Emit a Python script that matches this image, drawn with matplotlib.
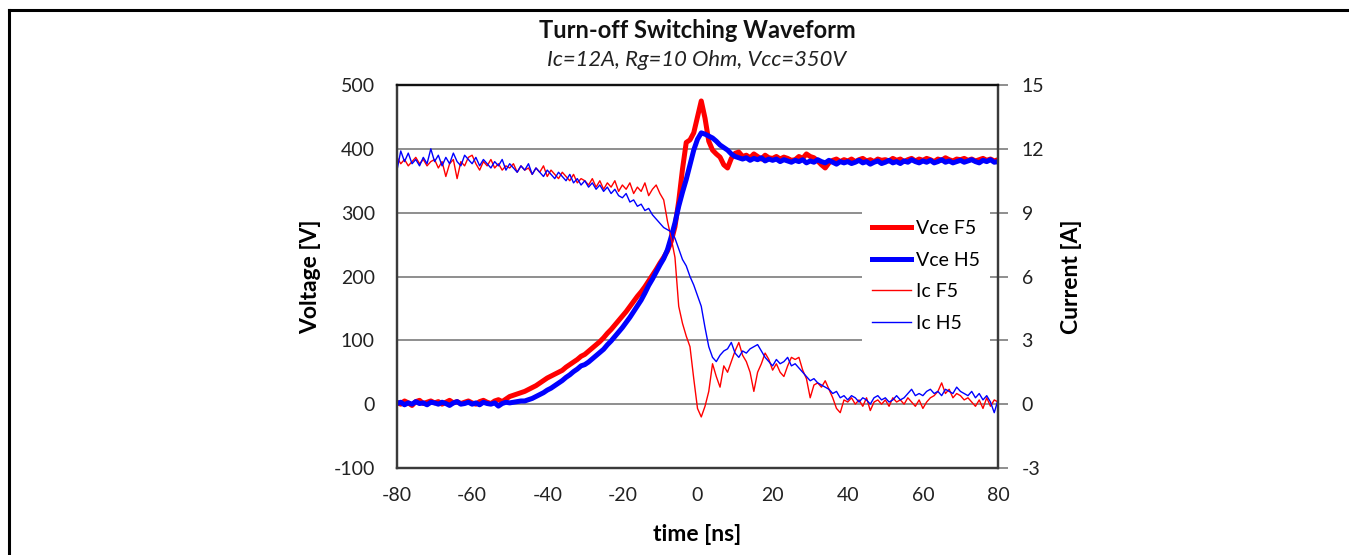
import numpy as np
import matplotlib
matplotlib.use("Agg")
from matplotlib import pyplot as plt
from matplotlib.lines import Line2D

plt.rcParams['font.family'] = ['Lato', 'DejaVu Sans']
plt.rcParams['axes.unicode_minus'] = False

# time axis, 1 ns steps from -80 to 80
time_ns = list(range(-80, 81))

# collector-emitter voltage [V]
vce_f5 = [
    3, 0, 5, 2, -2, 4, 6, 1, 3, 5,
    2, 4, 0, 3, 6, 2, 4, 1, 3, 5,
    2, 0, 4, 6, 3, 1, 5, 7, 4, 8,
    12, 14, 16, 18, 20, 23, 26, 29, 33, 37,
    41, 44, 47, 50, 53, 58, 62, 66, 70, 75,
    78, 83, 88, 93, 98, 104, 111, 117, 124, 131,
    138, 145, 153, 161, 169, 176, 184, 193, 202, 211,
    221, 230, 240, 255, 278, 318, 368, 410, 414, 425,
    450, 475, 448, 412, 398, 392, 387, 375, 370, 385,
    393, 395, 388, 390, 386, 392, 388, 384, 390, 386,
    385, 388, 384, 387, 385, 382, 383, 388, 385, 392,
    388, 386, 381, 375, 370, 378, 382, 384, 380, 383,
    381, 384, 380, 383, 385, 381, 383, 380, 384, 382,
    383, 381, 385, 382, 384, 380, 383, 385, 381, 384,
    382, 385, 383, 380, 384, 382, 386, 383, 381, 384,
    383, 385, 382, 384, 381, 383, 385, 382, 384, 381,
    383,
]
vce_h5 = [
    1, 3, -1, 2, 0, 4, 1, 2, -1, 3,
    2, 0, 3, 1, -2, 2, 4, 0, 1, 3,
    0, 2, -1, 3, 1, 0, 2, -3, 1, 3,
    2, 3, 4, 5, 5, 7, 9, 12, 15, 18,
    22, 25, 29, 33, 37, 42, 46, 51, 55, 60,
    62, 66, 71, 76, 81, 86, 93, 99, 106, 113,
    120, 128, 136, 145, 154, 163, 174, 186, 196, 207,
    218, 228, 242, 262, 284, 310, 332, 352, 375, 398,
    415, 425, 423, 420, 417, 412, 406, 402, 398, 392,
    388, 386, 384, 386, 382, 385, 383, 386, 381, 384,
    382, 384, 380, 383, 381, 379, 382, 380, 383, 378,
    381, 379, 383, 380, 378, 382, 379, 376, 380, 378,
    380, 377, 379, 382, 378, 380, 376, 379, 381, 377,
    379, 382, 378, 380, 377, 381, 379, 383, 380, 378,
    381, 379, 382, 378, 380, 383, 379, 381, 378, 380,
    382, 379, 381, 383, 380, 378, 382, 380, 383, 379,
    380,
]

# collector current [A]
ic_f5 = [
    11.6, 11.3, 11.5, 11.2, 11.4, 11.6, 11.3, 11.5, 11.2, 11.4,
    11.5, 11.1, 11.4, 10.7, 11.3, 11.5, 10.6, 11.4, 11.2, 11.6,
    11.7, 11.3, 11.0, 11.4, 11.2, 11.5, 11.1, 11.3, 11.0, 11.2,
    11.1, 11.3, 10.9, 11.2, 11.0, 11.1, 10.8, 11.1, 10.9, 11.2,
    10.7, 11.0, 10.8, 10.6, 10.9, 10.7, 10.5, 10.8, 10.4, 10.6,
    10.5, 10.3, 10.6, 10.2, 10.5, 10.1, 10.4, 10.2, 10.5, 10.0,
    10.3, 10.1, 10.4, 9.9, 10.2, 10.0, 10.4, 9.8, 10.1, 10.3,
    9.9, 9.6, 8.6, 7.8, 6.9, 4.6, 3.8, 3.2, 2.7, 1.2,
    -0.2, -0.6, -0.1, 0.6, 1.9, 1.3, 0.8, 1.8, 1.5, 2.0,
    2.5, 2.9, 2.3, 2.0, 1.5, 0.6, 1.5, 1.9, 2.4, 2.1,
    1.6, 1.9, 1.5, 1.3, 1.8, 2.2, 2.1, 2.2, 1.6, 1.2,
    0.3, 0.9, 1.0, 0.8, 1.1, 0.7, 0.3, -0.2, -0.4, 0.2,
    0.1, 0.3, 0.0, 0.2, -0.1, 0.3, -0.3, 0.1, 0.2, 0.0,
    0.2, -0.1, 0.3, 0.1, 0.2, 0.0, 0.3, 0.1, -0.1, 0.2,
    -0.2, 0.1, 0.3, 0.4, 0.6, 1.0, 0.5, 0.7, 0.3, 0.5,
    0.4, 0.2, 0.3, 0.1, -0.1, 0.2, -0.2, 0.3, -0.1, 0.2,
    0.1,
]
ic_h5 = [
    11.0, 11.9, 11.4, 11.8, 11.3, 11.5, 11.2, 11.6, 11.3, 12.0,
    11.4, 11.7, 11.2, 11.6, 11.3, 11.8, 11.4, 11.2, 11.7, 11.5,
    11.3, 11.6, 11.2, 11.5, 11.3, 11.1, 11.4, 11.2, 11.5, 11.0,
    11.3, 11.1, 10.9, 11.2, 11.0, 11.3, 10.8, 11.1, 10.9, 10.7,
    11.0, 10.8, 10.6, 10.9, 10.7, 10.5, 10.8, 10.4, 10.6, 10.3,
    10.5, 10.2, 10.4, 10.1, 10.3, 10.0, 10.2, 9.9, 10.1, 9.8,
    9.7, 9.9, 9.5, 9.6, 9.3, 9.4, 9.1, 9.2, 8.9, 8.7,
    8.5, 8.3, 8.2, 8.1, 7.8, 7.3, 6.8, 6.5, 6.0, 5.6,
    5.1, 4.6, 3.6, 2.7, 2.2, 2.0, 2.3, 2.5, 2.6, 2.9,
    2.4, 2.2, 2.5, 2.4, 2.6, 2.7, 2.8, 2.5, 2.2, 2.0,
    1.8, 2.1, 1.9, 2.0, 2.2, 1.8, 1.9, 1.7, 1.5, 1.3,
    1.1, 1.2, 1.0, 0.9, 0.8, 0.7, 0.5, 0.6, 0.3, 0.4,
    0.2, 0.4, 0.3, 0.1, 0.3, 0.2, 0.0, 0.3, 0.4, 0.2,
    0.3, 0.1, 0.2, 0.4, 0.2, 0.3, 0.5, 0.7, 0.4, 0.5,
    0.4, 0.6, 0.7, 0.5, 0.6, 0.4, 0.7, 0.6, 0.5, 0.8,
    0.6, 0.5, 0.4, 0.6, 0.3, 0.5, 0.2, 0.4, 0.1, -0.4,
    0.2,
]

x_ticks = [-80, -60, -40, -20, 0, 20, 40, 60, 80]
v_ticks = [-100, 0, 100, 200, 300, 400, 500]
i_ticks = [-3, 0, 3, 6, 9, 12, 15]

W, H = 1349, 555
fig = plt.figure(figsize=(W / 100, H / 100), dpi=100)
ax = fig.add_axes([397 / W, 1 - 468 / H, (998 - 397) / W, (468 - 85) / H])
ax2 = ax.twinx()

grid_col = "#868686"
spine_col = "#3a3a3a"

ax.plot(time_ns, vce_f5, color="#ff0000", lw=3.6, label="Vce F5", solid_joinstyle="round")
ax.plot(time_ns, vce_h5, color="#0000ff", lw=3.6, label="Vce H5", solid_joinstyle="round")
ax2.plot(time_ns, ic_f5, color="#ff0000", lw=1.0, label="Ic F5")
ax2.plot(time_ns, ic_h5, color="#0000ff", lw=1.0, label="Ic H5")

ax.set_xlim(-80, 80)
ax.set_ylim(-100, 500)
ax2.set_ylim(-3, 15)
ax.set_xticks(x_ticks)
ax.set_yticks(v_ticks)
ax2.set_yticks(i_ticks)

ax.yaxis.grid(True, color=grid_col, lw=1.3)
ax.set_axisbelow(True)

ax.tick_params(axis="x", length=0, pad=14, labelsize=14, labelcolor="#222222")
ax.tick_params(axis="y", length=0, pad=16, labelsize=14, labelcolor="#222222")
ax2.tick_params(axis="y", length=7, width=1.3, color=grid_col, pad=10,
                labelsize=14, labelcolor="#222222")

for a in (ax, ax2):
    for s in a.spines.values():
        s.set_color(spine_col)
        s.set_linewidth(1.6)
ax2.spines["top"].set_color("#111111")

ax.set_xlabel("time [ns]", fontsize=16.5, fontweight="bold", labelpad=14)
ax.set_ylabel("Voltage [V]", fontsize=16.5, fontweight="bold", labelpad=9)
ax2.set_ylabel("Current [A]", fontsize=16.5, fontweight="bold", labelpad=12)

fig.text(697 / W, 1 - 31 / H, "Turn-off Switching Waveform", ha="center", va="center",
         fontsize=17, fontweight="bold", color="#111111")
fig.text(697 / W, 1 - 60 / H, "Ic=12A, Rg=10 Ohm, Vcc=350V", ha="center", va="center",
         fontsize=15.8, fontstyle="italic", color="#222222")

h1, l1 = ax.get_legend_handles_labels()
h2, l2 = ax2.get_legend_handles_labels()
leg = ax2.legend(h1 + h2, l1 + l2, loc="center left",
                 bbox_to_anchor=(862 / W, 1 - 276 / H), bbox_transform=fig.transFigure,
                 fontsize=14, frameon=True, facecolor="white", edgecolor="none",
                 framealpha=1, fancybox=False, handlelength=2.0, handletextpad=0.3,
                 labelspacing=0.75, borderpad=0.5, borderaxespad=0)

# outer border of the chart region
fig.add_artist(Line2D([9 / W, 1], [1 - 10 / H, 1 - 10 / H], color="black", lw=2.2,
                      transform=fig.transFigure))
fig.add_artist(Line2D([9 / W, 9 / W], [0, 1 - 10 / H], color="black", lw=2.2,
                      transform=fig.transFigure))

fig.savefig("out.png", dpi=100)
